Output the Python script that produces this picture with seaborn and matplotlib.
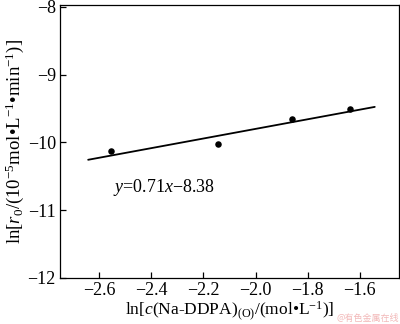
import matplotlib
matplotlib.use("Agg")
import matplotlib.pyplot as plt
import seaborn as sns
import numpy as np
import pandas as pd

# data
ln_c = [-2.553, -2.146, -1.861, -1.638]
ln_r0 = [-10.13, -10.025, -9.655, -9.51]
fit_slope = 0.71
fit_intercept = -8.38
fit_x_range = [-2.642, -1.543]
x_ticks = [-2.6, -2.4, -2.2, -2.0, -1.8, -1.6]
y_ticks = [-12, -11, -10, -9, -8]

sns.set_theme(style="ticks")
plt.rcParams['font.family'] = ['Liberation Serif', 'DejaVu Sans']
plt.rcParams['mathtext.fontset'] = 'custom'
plt.rcParams['mathtext.rm'] = 'Liberation Serif'
plt.rcParams['mathtext.it'] = 'Liberation Serif:italic'
plt.rcParams['axes.unicode_minus'] = True
plt.rcParams['text.color'] = 'black'
plt.rcParams['axes.labelcolor'] = 'black'
plt.rcParams['xtick.color'] = 'black'
plt.rcParams['ytick.color'] = 'black'

fig = plt.figure(figsize=(4.0, 3.24), dpi=100)
ax = fig.add_axes([0.15, 0.142, 0.8475, 0.843])

df = pd.DataFrame({"x": ln_c, "y": ln_r0})
sns.scatterplot(data=df, x="x", y="y", ax=ax, color="black", s=22,
                edgecolor="black", linewidth=0, zorder=3)

fx = np.array(fit_x_range)
fit_df = pd.DataFrame({"x": fx, "y": fit_slope * fx + fit_intercept})
sns.lineplot(data=fit_df, x="x", y="y", ax=ax, color="black", linewidth=1.3)

ax.set_xlim(-2.75, -1.45)
ax.set_ylim(-12, -7.97)
ax.set_xticks(x_ticks)
ax.set_xticklabels([f"{v:.1f}".replace("-", "\u2212") for v in x_ticks])
ax.set_yticks(y_ticks)
ax.set_yticklabels([f"{v}".replace("-", "\u2212") for v in y_ticks])

for s in ax.spines.values():
    s.set_linewidth(0.9)
    s.set_color("black")
ax.tick_params(direction="in", length=4, width=0.9, labelsize=13,
               colors="black", labelcolor="black", pad=3, top=False, right=False)

ax.set_xlabel(r"ln[$c$(Na-DDPA)$_{\mathrm{(O)}}$/(mol•L$^{\mathrm{-1}}$)]",
              fontsize=12.5, labelpad=0, color="black")
ax.set_ylabel(r"ln[$r_0$/(10$^{\mathrm{-5}}$mol•L$^{\mathrm{-1}}$•min$^{\mathrm{-1}}$)]",
              fontsize=13.5, labelpad=1, color="black")

ax.text(-2.545, -10.67, "$y$=0.71$x$\u22128.38",
        fontsize=13, va="center", ha="left", color="black")

fig.text(0.997, 0.004, "@有色金属在线", fontsize=6.5, color="#f2b8b8",
         ha="right", va="bottom", family=['Noto Sans CJK SC', 'DejaVu Sans'])

fig.savefig("out.png", dpi=100)
